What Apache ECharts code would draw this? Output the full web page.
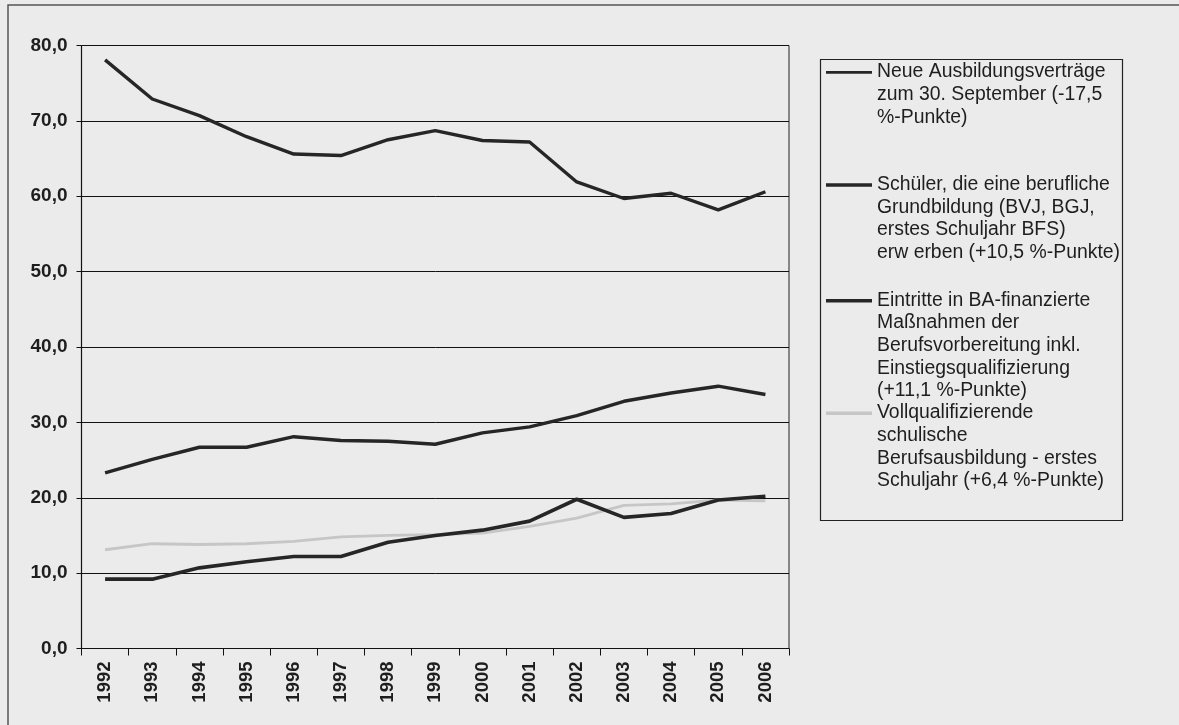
<!DOCTYPE html>
<html>
<head>
<meta charset="utf-8">
<script src="https://cdn.jsdelivr.net/npm/echarts@6/dist/echarts.min.js"></script>
<style>
html,body{margin:0;padding:0;background:#ebebeb;}
#chart{width:1179px;height:725px;}
</style>
</head>
<body>
<div id="chart"></div>
<script>
var years = ['1992','1993','1994','1995','1996','1997','1998','1999','2000','2001','2002','2003','2004','2005','2006'];
var yTicks = [0,10,20,30,40,50,60,70,80];

var neueVertraege   = [78.1,72.9,70.7,67.9,65.6,65.4,67.5,68.7,67.4,67.2,61.9,59.7,60.4,58.2,60.6];
var grundbildung    = [23.3,25.1,26.7,26.7,28.1,27.6,27.5,27.1,28.6,29.4,30.9,32.8,33.9,34.8,33.7];
var baMassnahmen    = [9.2,9.2,10.7,11.5,12.2,12.2,14.1,15.0,15.7,16.9,19.8,17.4,17.9,19.7,20.2];
var vollqualifiziert= [13.1,13.9,13.8,13.9,14.2,14.8,15.0,15.1,15.3,16.2,17.3,19.0,19.2,19.7,19.6];

var legendTexts = [
  ['Neue Ausbildungsverträge','zum 30. September (-17,5','%-Punkte)'],
  ['Schüler, die eine berufliche','Grundbildung (BVJ, BGJ,','erstes Schuljahr BFS)','erw erben (+10,5 %-Punkte)'],
  ['Eintritte in BA-finanzierte','Maßnahmen der','Berufsvorbereitung inkl.','Einstiegsqualifizierung','(+11,1 %-Punkte)'],
  ['Vollqualifizierende','schulische','Berufsausbildung - erstes','Schuljahr (+6,4 %-Punkte)']
];
var seriesData = [neueVertraege, grundbildung, baMassnahmen, vollqualifiziert];
var seriesColors = ['#262626','#262626','#262626','#c6c6c6'];
var seriesWidths = [3.4,3.4,3.6,2.8];

var chart = echarts.init(document.getElementById('chart'), null, {renderer:'canvas'});

var legendIconY = [72.3,185,300.7,413.3];
var graphics = [
  {type:'rect', shape:{x:8,y:5,width:1400,height:1000}, style:{fill:'none',stroke:'#555',lineWidth:1.5}, silent:true, z:-1},
  {type:'rect', shape:{x:820.5,y:59.5,width:302,height:461}, style:{fill:'none',stroke:'#222',lineWidth:1.2}, silent:true}
];
legendTexts.forEach(function(lines,i){
  graphics.push({type:'line', shape:{x1:826,y1:legendIconY[i],x2:872,y2:legendIconY[i]},
    style:{stroke:seriesColors[i],lineWidth:i===0?2.8:3.6}, silent:true});
  graphics.push({type:'text', x:877, y:legendIconY[i]-11.5,
    style:{text:lines.join('\n'), font:'19.4px "Liberation Sans", Arial, sans-serif', fill:'#1e1e1e',
      lineHeight:22.6, verticalAlign:'top', align:'left'}, silent:true});
});

var series = seriesData.map(function(d,i){
  return {
    name: legendTexts[i].join(' '),
    type:'line', data:d, symbol:'none', smooth:false,
    lineStyle:{color:seriesColors[i], width:seriesWidths[i]},
    z: i===3 ? 1 : 3
  };
});

chart.setOption({
  animation:false,
  backgroundColor:'#ebebeb',
  grid:{left:81.5, right:390, top:45.5, bottom:76.5, show:true, borderColor:'#222', borderWidth:1, backgroundColor:'transparent'},
  xAxis:{
    type:'category', data:years, boundaryGap:true,
    axisLine:{lineStyle:{color:'#111',width:1.2}},
    axisTick:{show:true, length:7, lineStyle:{color:'#111'}},
    axisLabel:{rotate:90, margin:13, color:'#1e1e1e', fontWeight:'bold', fontSize:18.5, fontFamily:'"Liberation Sans", Arial, sans-serif', interval:0}
  },
  yAxis:{
    type:'value', min:yTicks[0], max:yTicks[yTicks.length-1], interval:10,
    axisLine:{show:true, lineStyle:{color:'#111',width:1.2}},
    axisTick:{show:true, length:5, lineStyle:{color:'#111'}},
    splitLine:{lineStyle:{color:'#111',width:1}},
    axisLabel:{margin:14, color:'#1e1e1e', fontWeight:'bold', fontSize:19, fontFamily:'"Liberation Sans", Arial, sans-serif',
      formatter:function(v){return v.toFixed(1).replace('.',',');}}
  },
  series: series,
  graphic: graphics
});
</script>
</body>
</html>
